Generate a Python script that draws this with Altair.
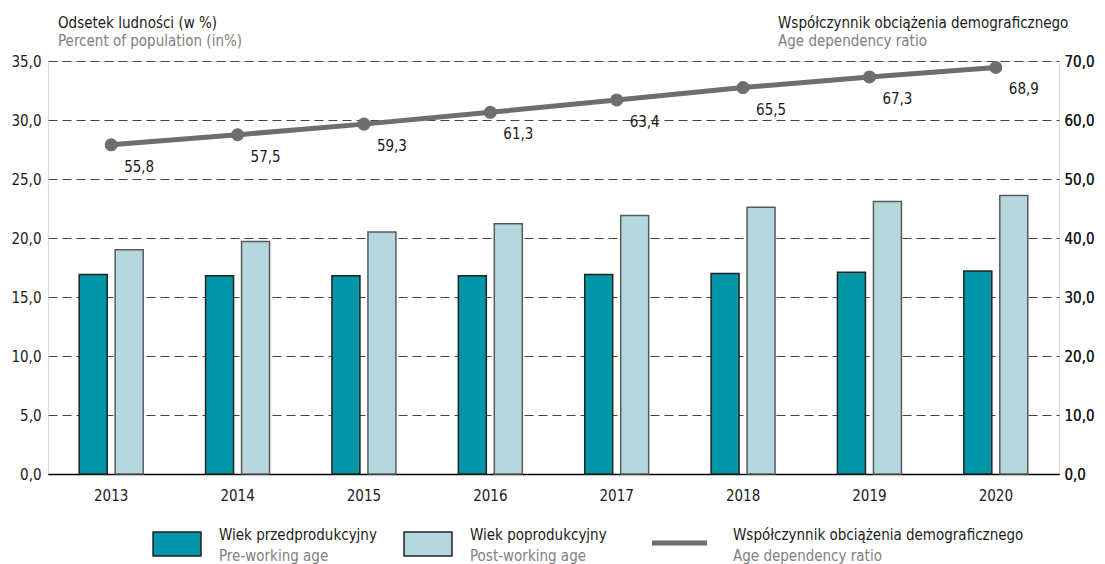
import altair as alt
import pandas as pd

years = ["2013", "2014", "2015", "2016", "2017", "2018", "2019", "2020"]
pre_working = [16.9, 16.8, 16.8, 16.8, 16.9, 17.0, 17.1, 17.2]
post_working = [19.0, 19.7, 20.5, 21.2, 21.9, 22.6, 23.1, 23.6]
dependency = [55.8, 57.5, 59.3, 61.3, 63.4, 65.5, 67.3, 68.9]

groups = ["Wiek przedprodukcyjny", "Wiek poprodukcyjny"]
groups_en = ["Pre-working age", "Post-working age"]
line_name = "Współczynnik obciążenia demograficznego"
line_name_en = "Age dependency ratio"
left_title = ["Odsetek ludności (w %)", "Percent of population (in%)"]
right_title = ["Współczynnik obciążenia demograficznego", "Age dependency ratio"]

FONT = "'DejaVu Sans Condensed', 'Roboto Condensed', 'Liberation Sans Narrow', Roboto, sans-serif"
FS = 15
DARK = "#0096A6"
LIGHT = "#B4D8DE"
LINE = "#6E6E6E"
GRAY = "#808080"
BLACK = "#1a1a1a"

bars_df = pd.DataFrame(
    [{"year": y, "group": groups[0], "value": v} for y, v in zip(years, pre_working)]
    + [{"year": y, "group": groups[1], "value": v} for y, v in zip(years, post_working)]
)
line_df = pd.DataFrame({"year": years, "ratio": dependency})

W, H = 1011, 413

x_enc = alt.X(
    "year:N",
    sort=years,
    scale=alt.Scale(paddingInner=0, paddingOuter=0),
    axis=alt.Axis(
        title=None, labelAngle=0, ticks=False, domain=True, domainColor="#000000",
        domainWidth=1.5, labelPadding=14, labelFontSize=FS, labelColor=BLACK,
        labelFont=FONT, labelFontWeight="normal", grid=False,
    ),
)

bars = alt.Chart(bars_df).mark_bar(strokeWidth=1.5).encode(
    x=x_enc,
    xOffset=alt.XOffset(
        "group:N", sort=groups,
        scale=alt.Scale(paddingInner=0.222, paddingOuter=0.867),
    ),
    y=alt.Y(
        "value:Q",
        scale=alt.Scale(domain=[0, 35], nice=False),
        axis=alt.Axis(
            title=None, values=[0, 5, 10, 15, 20, 25, 30, 35], orient="left",
            labelExpr="replace(format(datum.value, '.1f'), '.', ',')",
            grid=True, gridDash=[9, 5], gridColor="#444444", gridWidth=1.2,
            domain=False, ticks=False, labelPadding=7, labelFontSize=FS,
            labelColor=BLACK, labelFont=FONT, labelFontWeight="normal",
        ),
    ),
    color=alt.Color("group:N", sort=groups,
                    scale=alt.Scale(domain=groups, range=[DARK, LIGHT]), legend=None),
    stroke=alt.Stroke("group:N", sort=groups,
                      scale=alt.Scale(domain=groups, range=["#222222", "#5a5a5a"]), legend=None),
)

y_right = alt.Y(
    "ratio:Q",
    scale=alt.Scale(domain=[0, 70], nice=False),
    axis=alt.Axis(
        title=None, orient="right", values=[0, 10, 20, 30, 40, 50, 60, 70],
        labelExpr="replace(format(datum.value, '.1f'), '.', ',')",
        grid=False, domain=False, ticks=False, labelPadding=5,
        labelFontSize=FS, labelColor=BLACK, labelFont=FONT, labelFontWeight="normal",
    ),
)

line_base = alt.Chart(line_df).encode(x=alt.X("year:N", sort=years), y=y_right)
line = line_base.mark_line(color=LINE, strokeWidth=5)
points = line_base.mark_point(filled=True, color=LINE, size=170, opacity=1)
labels = line_base.transform_calculate(
    lab="replace(format(datum.ratio, '.1f'), '.', ',')"
).mark_text(dx=28, dy=22, fontSize=FS, font=FONT, color=BLACK).encode(
    text="lab:N", y=alt.Y("ratio:Q", scale=alt.Scale(domain=[0, 70], nice=False), axis=None)
)

one = alt.Data(values=[{}])

def txt(s, x, y, color, align="left"):
    return alt.Chart(one).mark_text(
        text=s, align=align, baseline="alphabetic", fontSize=FS, font=FONT, color=color
    ).encode(x=alt.value(x), y=alt.value(y))

def rect(x, x2, y, y2, fill, stroke):
    return alt.Chart(one).mark_rect(fill=fill, stroke=stroke, strokeWidth=1.5).encode(
        x=alt.value(x), x2=alt.value(x2), y=alt.value(y), y2=alt.value(y2)
    )

titles = [
    txt(left_title[0], 10, -33, BLACK),
    txt(left_title[1], 10, -15, GRAY),
    txt(right_title[0], 730, -33, BLACK),
    txt(right_title[1], 730, -15, GRAY),
]

legend = [
    rect(105, 153, 471, 495, DARK, "#222222"),
    txt(groups[0], 171, 479, BLACK),
    txt(groups_en[0], 171, 500, GRAY),
    rect(356, 404, 471, 495, LIGHT, "#222222"),
    txt(groups[1], 422, 479, BLACK),
    txt(groups_en[1], 422, 500, GRAY),
    alt.Chart(one).mark_rule(color=LINE, strokeWidth=5).encode(
        x=alt.value(604), x2=alt.value(659), y=alt.value(482)
    ),
    txt(line_name, 685, 479, BLACK),
    txt(line_name_en, 685, 500, GRAY),
]

chart = alt.layer(
    bars, line, points, labels, *titles, *legend
).resolve_scale(y="independent").properties(
    width=W, height=H,
    autosize=alt.AutoSizeParams(type="none"),
    padding={"left": 40, "top": 53, "right": 38, "bottom": 90},
).configure_view(stroke=None).configure(font=FONT)

chart.save("out.html", embed_options={"renderer": "svg", "actions": False})
